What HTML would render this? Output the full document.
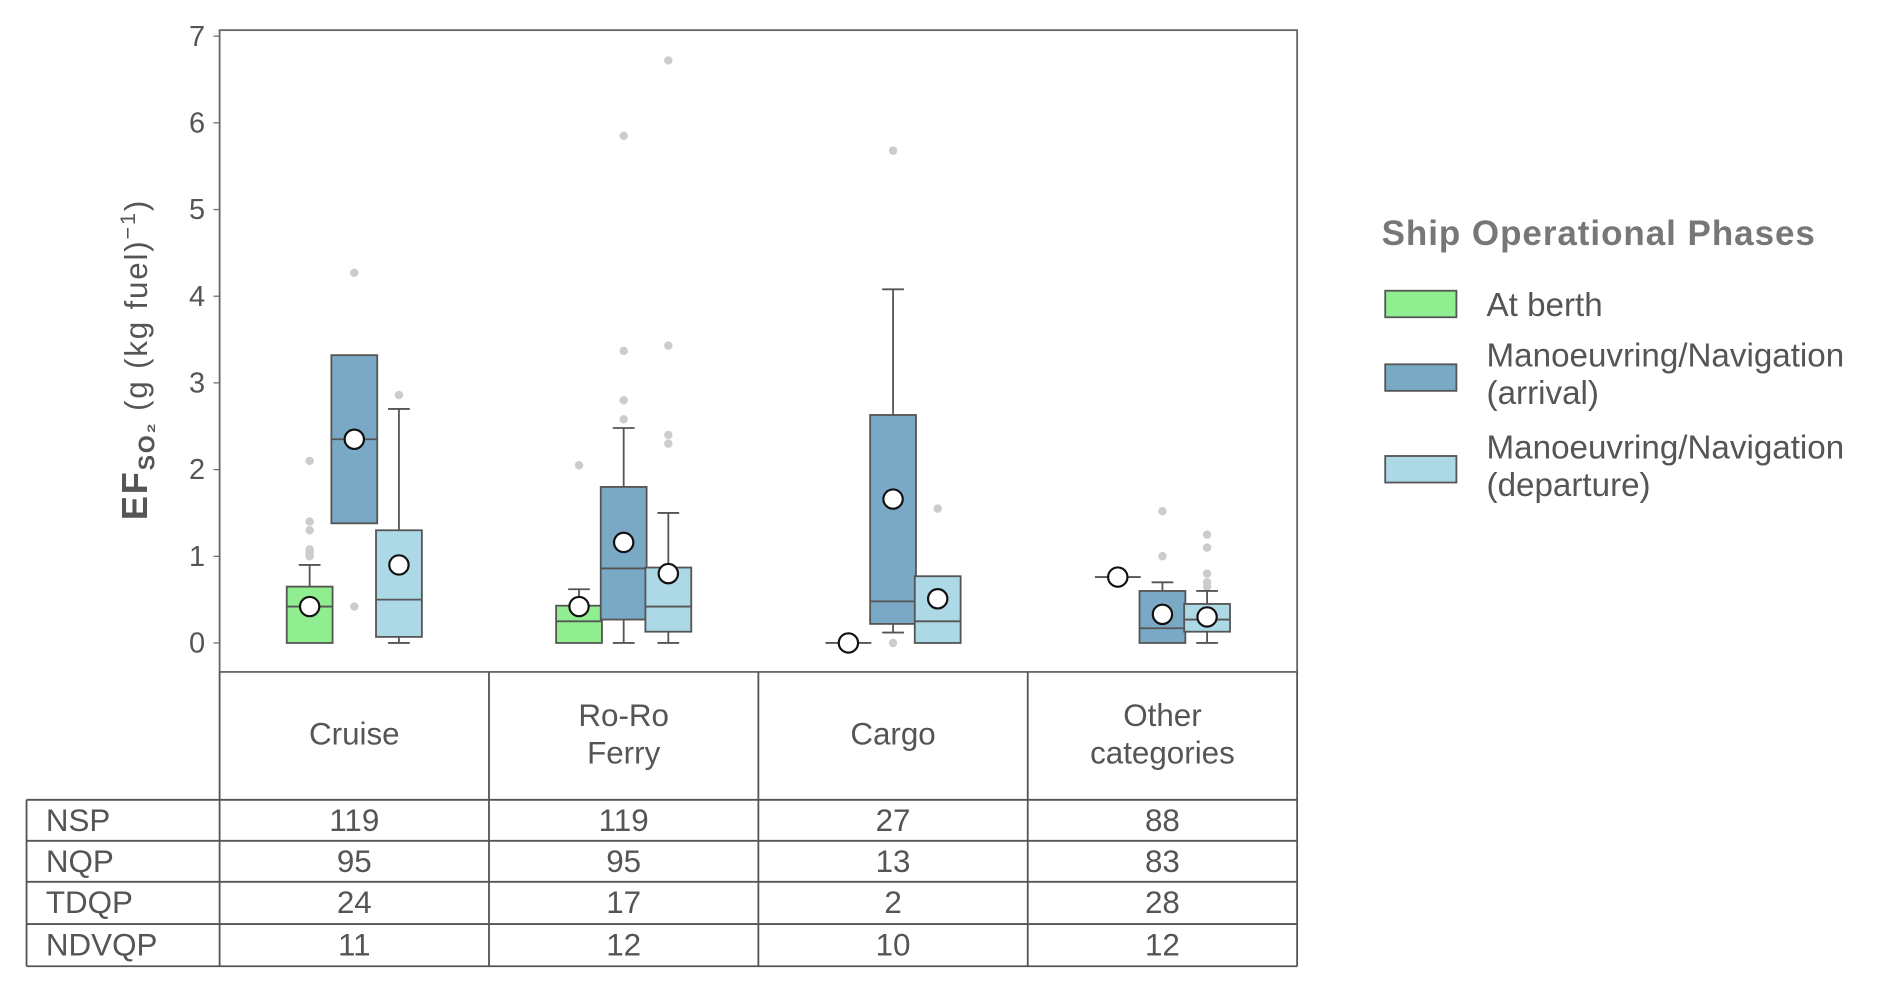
<!DOCTYPE html>
<html><head><meta charset="utf-8"><style>
html,body{margin:0;padding:0;background:#fff;}
svg{display:block;font-family:"Liberation Sans",sans-serif;}
</style></head><body>
<svg id="chart" width="1892" height="994" viewBox="0 0 1568 824" preserveAspectRatio="none" xmlns="http://www.w3.org/2000/svg">
<g id="plot"></g>
<g id="table"></g>
<g id="legend">
<text x="1145" y="203" font-size="29" font-weight="bold" letter-spacing="0.8" fill="#777">Ship Operational Phases</text>
<rect x="1148" y="241" width="59" height="22" fill="#90EE90" stroke="#555" stroke-width="1.5"/>
<text x="1232" y="262" font-size="27.5" fill="#555">At berth</text>
<rect x="1148" y="302" width="59" height="22" fill="#79A9C5" stroke="#555" stroke-width="1.5"/>
<text x="1232" y="304" font-size="27.5" fill="#555">Manoeuvring/Navigation<tspan x="1232" dy="31">(arrival)</tspan></text>
<rect x="1148" y="378" width="59" height="22" fill="#ADD8E6" stroke="#555" stroke-width="1.5"/>
<text x="1232" y="380" font-size="27.5" fill="#555">Manoeuvring/Navigation<tspan x="1232" dy="31">(departure)</tspan></text>
</g>
<text transform="translate(122,298) rotate(-90)" text-anchor="middle" font-size="26" letter-spacing="1.5" fill="#555"><tspan font-weight="bold" font-size="30">EF</tspan><tspan font-weight="bold" font-size="19" dy="6">SO₂</tspan><tspan dy="-6"> (g (kg fuel)</tspan><tspan font-size="18" dy="-10">−1</tspan><tspan dy="10">)</tspan></text>
</svg>
<script>
const categories = ["Cruise", "Ro-Ro\nFerry", "Cargo", "Other\ncategories"];
const phases = ["berth", "arrival", "departure"];
const tickLabels = [0,1,2,3,4,5,6,7];
// [low whisker, q1, median, q3, high whisker, mean] per category per phase
const berthStats = [[0,0,0.42,0.65,0.9,0.42],[0,0,0.25,0.43,0.62,0.42],[0,0,0,0,0,0],[0.76,0.76,0.76,0.76,0.76,0.76]];
const arrivalStats = [[1.38,1.38,2.35,3.32,3.32,2.35],[0,0.27,0.86,1.8,2.48,1.16],[0.12,0.22,0.48,2.63,4.08,1.66],[0,0,0.17,0.6,0.7,0.33]];
const departureStats = [[0,0.07,0.5,1.3,2.7,0.9],[0,0.13,0.42,0.87,1.5,0.8],[0,0,0.25,0.77,0.77,0.51],[0,0.13,0.27,0.45,0.6,0.3]];
const berthOutliers = [[1.0,1.02,1.05,1.08,1.3,1.4,2.1],[2.05],[],[]];
const arrivalOutliers = [[0.42,4.27],[2.58,2.8,3.37,5.85],[0,5.68],[1.0,1.52]];
const departureOutliers = [[2.86],[2.3,2.4,3.43,6.72],[1.55],[0.65,0.7,0.8,1.1,1.25]];
const rowLabels = ["NSP","NQP","TDQP","NDVQP"];
const nsp = [119,119,27,88];
const nqp = [95,95,13,83];
const tdqp = [24,17,2,28];
const ndvqp = [11,12,10,12];

const NS="http://www.w3.org/2000/svg";
const X0=182,X1=1075,Y0=25,Y1=557;
const y=v=>533-v*71.86;
const colW=(X1-X0)/categories.length;
const cx=i=>X0+colW*(i+0.5);
const off=[-37,0,37];
const colors=["#90EE90","#79A9C5","#ADD8E6"];
const stats=[berthStats,arrivalStats,departureStats];
const outs=[berthOutliers,arrivalOutliers,departureOutliers];
function mk(parent,tag,attrs){const e=document.createElementNS(NS,tag);for(const k in attrs)e.setAttribute(k,attrs[k]);parent.appendChild(e);return e;}
const plot=document.getElementById('plot');
let fr=mk(plot,'rect',{x:X0,y:Y0,width:X1-X0,height:Y1-Y0,fill:'none',stroke:'#666','stroke-width':1.5});


tickLabels.forEach(t=>{
  let l=mk(plot,'line',{x1:X0-5,x2:X0,y1:y(t),y2:y(t),stroke:'#666'});
  
  
  let tx=mk(plot,'text',{x:X0-12,y:y(t)+8,'text-anchor':'end','font-size':24,fill:'#555'});
  tx.textContent=t;
  
  
});
const bw=38,cw=18;
categories.forEach((c,i)=>{
  phases.forEach((p,j)=>{
    const s=stats[j][i],x=cx(i)+off[j];
    const g=mk(plot,'g',{});
    
    
    outs[j][i].forEach(o=>{mk(g,'circle',{cx:x,cy:y(o),r:3.5,fill:'#ccc'});});
    const st={stroke:'#555','stroke-width':1.5};
    if(s[4]>s[3]){mk(g,'line',Object.assign({x1:x,x2:x,y1:y(s[3]),y2:y(s[4])},st));mk(g,'line',Object.assign({x1:x-cw/2,x2:x+cw/2,y1:y(s[4]),y2:y(s[4])},st));}
    if(s[0]<s[1]){mk(g,'line',Object.assign({x1:x,x2:x,y1:y(s[1]),y2:y(s[0])},st));mk(g,'line',Object.assign({x1:x-cw/2,x2:x+cw/2,y1:y(s[0]),y2:y(s[0])},st));}
    mk(g,'rect',Object.assign({x:x-bw/2,y:y(s[3]),width:bw,height:Math.max(0,y(s[1])-y(s[3])),fill:colors[j]},st));
    mk(g,'line',Object.assign({x1:x-bw/2,x2:x+bw/2,y1:y(s[2]),y2:y(s[2])},st));
    mk(g,'circle',{cx:x,cy:y(s[5]),r:8,fill:'#fff',stroke:'#111','stroke-width':1.8});
  });
});
const tb=document.getElementById('table');
const rows=[nsp,nqp,tdqp,ndvqp];
const rY=[663,697,731,766,801];
const ls={stroke:'#555','stroke-width':1.5};
for(let k=0;k<=categories.length;k++){const x=X0+colW*k;mk(tb,'line',Object.assign({x1:x,x2:x,y1:Y1,y2:801},ls));}
rY.forEach(yy=>mk(tb,'line',Object.assign({x1:22,x2:X1,y1:yy,y2:yy},ls)));
mk(tb,'line',Object.assign({x1:22,x2:22,y1:663,y2:801},ls));
categories.forEach((c,i)=>{
  const lines=c.split('\n');
  const t=mk(tb,'text',{x:cx(i),'text-anchor':'middle','font-size':26,fill:'#555'});
  
  
  lines.forEach((ln,q)=>{const ts=mk(t,'tspan',{x:cx(i),y:(lines.length==1?617:602)+q*31});ts.textContent=ln;});
});
rowLabels.forEach((r,ri)=>{
  const yy=rY[ri]+26;
  const t=mk(tb,'text',{x:38,y:yy,'font-size':26,fill:'#555'});t.textContent=r;
  
  
  rows[ri].forEach((v,i)=>{
    const c=mk(tb,'text',{x:cx(i),y:yy,'text-anchor':'middle','font-size':26,fill:'#555'});c.textContent=v;
    
    
  });
});
</script>
</body></html>
